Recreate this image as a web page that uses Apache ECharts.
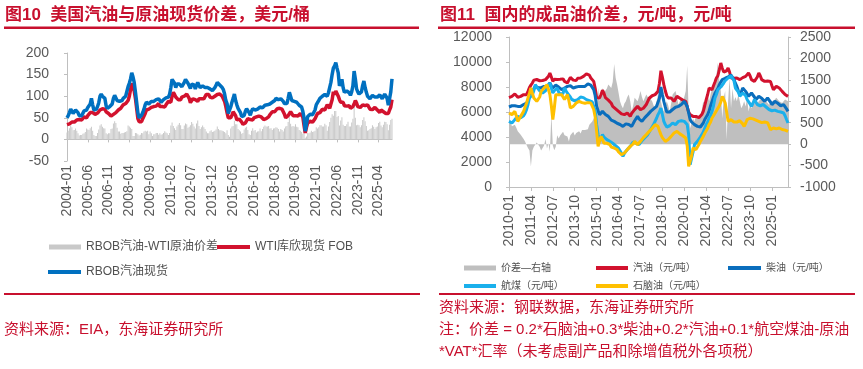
<!DOCTYPE html>
<html><head><meta charset="utf-8">
<script src="https://cdn.jsdelivr.net/npm/echarts@6/dist/echarts.min.js"></script>
<style>html,body{margin:0;padding:0;background:#fff}#c{width:863px;height:369px}</style>
</head><body><div id="c"></div>
<script>
function months(y0, m0, n) {
  const a = []; let y = y0, m = m0;
  for (let i = 0; i < n; i++) { a.push(y + '-' + (m < 10 ? '0' : '') + m); m++; if (m > 12) { m = 1; y++; } }
  return a;
}
// ---------- Figure 10: US gasoline vs crude (USD/bbl), monthly 2004-01 .. 2026-03
const usCats = months(2004, 1, 267);
const rbobSpot = [
 50,55,62,70,68,60,63,68,65,62,55,53,
 55,58,66,70,68,74,78,82,95,80,68,66,
 70,76,85,100,105,100,98,95,78,72,74,76,
 78,82,95,102,100,90,86,88,85,90,95,98,
 100,102,122,130,140,154,145,132,110,86,62,50,
 53,56,62,70,80,86,84,82,86,88,86,88,
 90,92,95,94,90,86,88,92,94,96,98,98,
 105,120,139,140,130,120,128,126,128,125,122,124,
 132,139,140,130,124,118,128,130,126,117,125,132,
 125,120,122,124,122,120,122,120,118,117,115,113,
 113,120,125,132,128,126,124,120,115,105,90,83,
 60,58,75,86,95,105,90,80,72,68,62,53,
 50,55,65,71,70,62,56,65,71,70,68,68,
 70,73,75,71,73,75,79,78,80,83,82,84,
 86,88,90,95,98,92,90,94,92,88,83,80,
 83,95,109,100,90,86,88,90,86,82,79,80,
 75,65,50,19,35,53,55,58,60,57,60,68,
 80,85,90,95,98,100,102,104,105,100,108,112,
 132,150,165,170,178,165,154,124,130,139,120,109,
 109,112,115,108,102,110,124,158,140,117,110,105,
 102,110,125,135,120,109,100,97,94,98,102,100,
 98,100,98,102,103,100,94,98,105,100,95,79,
 94,110,140
];
const wtiSpot = [
 34,35,36,37,40,39,40,43,45,48,46,43,
 45,47,52,53,50,55,58,62,66,62,58,58,
 62,61,62,68,70,71,72,70,64,60,60,62,
 54,57,58,60,62,63,68,70,72,75,80,82,
 83,86,90,100,115,130,128,112,95,72,48,41,
 42,41,48,52,60,68,64,70,68,74,78,76,
 78,77,80,83,76,75,76,77,75,80,84,88,
 88,86,100,109,104,98,98,92,90,92,98,100,
 100,102,105,103,95,85,88,94,96,92,88,88,
 94,96,94,92,94,96,104,106,104,98,94,96,
 95,100,102,104,104,105,102,100,96,88,76,62,
 50,52,50,56,64,62,55,45,48,47,44,40,
 35,32,38,42,48,50,46,45,45,50,46,52,
 52,54,50,52,49,46,47,48,50,52,57,58,
 64,63,64,67,71,68,72,70,70,70,58,50,
 52,55,58,64,60,55,58,55,57,54,57,60,
 58,52,32,15,28,38,41,42,40,40,42,48,
 52,60,62,62,65,70,72,68,72,80,78,72,
 82,92,110,104,112,113,100,92,86,88,86,78,
 78,77,74,78,72,71,76,82,90,84,76,72,
 74,77,80,84,78,78,80,76,70,72,69,71,
 74,72,68,64,62,68,66,64,64,60,60,60,
 68,75,92
];
const rbobWtiSpread = [
 16,20,26,32,28,21,22,25,20,14,9,10,
 10,13,14,17,25,23,22,26,29,20,10,8,
 8,15,23,32,35,29,26,25,14,12,14,14,
 24,25,37,42,38,27,18,18,13,15,15,16,
 17,19,32,30,27,24,8,8,15,14,12,9,
 11,15,14,18,20,18,20,12,18,14,8,12,
 12,15,15,11,14,11,12,15,19,16,14,10,
 15,32,39,31,26,22,30,34,38,33,24,24,
 32,37,35,27,29,33,40,36,30,25,37,44,
 31,24,28,32,28,24,18,14,14,19,21,17,
 18,20,23,30,24,21,21,20,19,17,14,21,
 10,6,25,30,31,43,35,35,24,21,18,13,
 15,23,27,29,22,12,10,20,26,20,22,16,
 18,19,25,19,24,29,32,30,30,31,25,26,
 22,25,26,28,27,24,18,24,22,18,25,30,
 31,40,51,36,30,31,30,35,29,28,22,20,
 17,13,18,4,7,15,14,16,20,17,18,20,
 28,25,28,33,33,30,30,36,33,20,30,40,
 50,58,55,66,66,52,54,32,44,51,34,31,
 31,35,41,30,30,39,48,76,50,33,34,33,
 28,33,45,51,42,31,20,21,24,26,33,29,
 24,28,30,38,41,32,28,34,41,40,35,21,
 34,45,48
];
const usYTicks = { min: -50, max: 200, step: 50 };

// ---------- Figure 11: China refined products (CNY/t), monthly 2010-01 .. 2025-12
const cnCats = months(2010, 1, 192);
const gasoline = [
 7150,7100,7250,7300,7450,7350,7180,7150,7250,7300,7390,7450,
 7390,7650,7950,8150,8320,8550,8640,8600,8640,8500,8450,8520,
 8560,8590,8620,8850,9120,8800,8450,8620,8770,8600,8450,8620,
 8770,8650,8450,8300,8320,8550,8770,8620,8550,8450,8520,8700,
 8650,8720,8780,8850,8900,9050,9120,8950,8720,8700,8450,7900,
 7150,7000,7120,7400,7750,7500,7150,7050,6950,6850,6700,6450,
 6450,6250,6100,6050,5950,5850,5800,5790,5850,5920,5800,5650,
 5900,6050,6190,6350,6450,6300,6190,6250,6300,6320,6600,6850,
 7100,7250,7300,7350,7390,7500,7650,8300,9300,8800,8190,7700,
 7300,7120,7150,7120,7000,6850,7050,7250,7390,7100,6990,6950,
 6900,6850,6400,6000,5790,5700,5650,5700,5650,5600,5550,5520,
 5800,6050,6500,6990,7400,7920,7900,7790,8100,8400,8720,8900,
 9390,9920,9500,9200,9120,9300,9520,9200,8720,8650,8700,8720,
 8720,8650,8590,8700,8750,8800,8850,9000,9120,8900,8590,8500,
 8450,8450,8800,9120,8900,8590,8500,8450,8450,8480,8450,8450,
 8100,7790,7900,8050,8000,7920,7800,7650,7520,7400,7300,7250
];
const diesel = [
 6400,6450,6500,6590,6500,6450,6450,6400,6450,6500,6600,6700,
 6720,6900,7200,7450,7650,7850,8050,8000,7950,7920,7950,8000,
 8050,8050,8050,8200,8320,8100,7920,8000,8150,8190,8000,7850,
 7790,7850,7920,7950,8050,8190,8100,7950,7920,7950,8000,8050,
 8050,8050,8050,8100,8050,8150,8250,8320,8150,8050,7790,7300,
 6450,6100,5790,5900,6050,5950,5800,5650,5650,5500,5350,5250,
 5250,5150,5100,5120,5000,4900,4850,4950,5050,5120,5000,4900,
 4850,5000,5300,5450,5650,5450,5300,5250,5400,5550,5650,5790,
 5900,6050,6150,6250,6350,6450,6600,7100,8000,7400,6850,6400,
 6000,5920,6000,6150,6200,6320,6380,6450,6450,6500,6600,6700,
 6850,6700,6450,6300,5390,5200,5100,4990,4900,4850,4720,4800,
 4950,5120,5400,5600,5790,6100,6500,6850,7200,7500,7650,7900,
 8190,8400,8590,8650,8700,8720,8800,8900,8950,8990,8600,8300,
 8050,7700,7390,7600,7920,7800,7650,7450,7250,7350,7520,7400,
 7200,6990,7100,7250,7200,7100,6950,6850,6950,7120,7000,6800,
 6590,6700,6850,6800,6700,6590,6500,6600,6590,6450,6250,6050
];
const jetFuel = [
 5250,5200,5120,5250,5390,5500,5650,5600,5550,5520,5700,5900,
 6190,6600,7120,7250,7390,7700,8190,8000,7920,7700,7600,7520,
 7520,7700,7920,8100,8320,7900,7520,7700,7800,7920,7600,7400,
 7250,7500,7920,7700,7500,7390,7200,7000,6850,6900,6950,6990,
 7100,7200,7250,7150,7050,6990,6950,6900,6850,6800,6720,6100,
 4990,4200,3650,3900,4190,4000,3850,3790,3700,3650,3600,3500,
 3400,3300,3250,3100,2990,2700,2450,2700,2850,3000,3150,3250,
 3400,3600,3650,3500,3450,3390,3550,3700,3790,3950,4100,4190,
 4400,4600,4800,5000,5250,5500,5790,6000,6320,5800,5250,5000,
 4800,4720,4900,5050,5120,5050,4990,5100,5250,5390,5300,5250,
 5250,5200,5000,4190,1790,1700,2800,3390,3500,3650,3800,4000,
 4190,4400,4700,4990,5200,5520,5700,6050,6500,7120,7400,7790,
 7900,8000,8100,8320,8500,8600,8720,8800,8900,8990,8500,7920,
 7920,7600,7250,7400,7520,7500,7300,7000,6850,6650,6450,6700,
 6990,6800,6600,6450,6500,6550,6600,6590,6400,6300,6200,6050,
 6100,6190,6150,6100,6050,6050,6000,5950,5920,5700,5400,5120
];
const naphtha = [
 5920,5850,5790,5900,6050,5700,5250,5450,5650,5850,6050,6400,
 6700,7120,7500,7920,7500,7120,7000,6850,7000,7200,7650,7800,
 7920,8050,8190,7800,7390,6500,5390,6300,7390,7400,7390,7390,
 7390,7200,6990,7200,7390,6900,6320,6350,6450,6550,6720,6800,
 6850,6800,6750,6720,6700,6720,6750,6720,6720,6600,6200,5600,
 4450,3250,3700,4050,3800,3500,3390,3500,3650,3400,3200,3120,
 3120,3050,2990,2800,2650,2590,2650,2720,2850,2990,3100,3250,
 3300,3450,3650,3500,3390,3500,3650,3790,3950,4050,4190,4300,
 4450,4590,4700,4850,4990,4900,4850,4500,4190,3950,3800,3650,
 3700,3800,3920,4050,4200,4320,4400,4450,4350,4250,4190,4100,
 4050,3920,3300,1650,1600,2500,3120,3050,2990,3200,3400,3650,
 3800,4050,4300,4450,4700,4990,5200,5520,5700,5900,6050,6300,
 6500,6800,7250,7000,6720,6000,5250,5300,5390,5300,5200,5120,
 5200,5250,5300,5250,5050,4850,5100,5390,5450,5500,5520,5450,
 5390,5350,5300,5250,5200,5150,5120,5200,5250,5150,4900,4590,
 4600,4720,4700,4650,4720,4720,4650,4600,4720,4550,4500,4450
];
const productSpread = [
 690,520,420,380,450,380,300,260,220,180,120,60,
 -20,-90,-150,-520,-150,-60,-20,40,60,-60,-150,-90,
 -30,120,-100,20,-180,690,-30,-140,-60,210,130,200,
 170,290,210,250,180,60,210,250,290,200,260,290,
 300,250,330,370,330,290,350,450,480,530,600,700,
 840,1310,1000,1150,1310,1200,1160,1300,1390,1350,1310,1450,
 1870,1550,1390,1200,1000,900,840,950,1000,1100,1160,1000,
 760,900,1080,1050,1000,1100,1240,1100,1000,1080,1160,1100,
 1080,1050,1000,900,840,1000,1160,1100,1000,850,760,900,
 1000,900,760,950,1160,1200,1240,1100,920,1000,1080,1000,
 1100,1240,1830,760,370,500,600,530,680,600,650,700,
 800,1000,920,1100,1160,1000,1160,1300,1390,1550,1600,1900,
 1470,1240,600,1080,1240,100,1000,1550,840,1300,1000,1100,
 1000,1160,1000,840,900,1000,880,1080,760,920,840,880,
 960,1000,960,1000,1040,1080,1040,1000,1000,960,920,1000,
 960,1000,1040,1080,1040,1000,1000,960,1000,1040,1000,1000
];
const cnLeftTicks = { min: 0, max: 12000, step: 2000 };
const cnRightTicks = { min: -1000, max: 2500, step: 500 };

const FONT = '"Liberation Sans", "Noto Sans CJK SC", sans-serif';
const RED = '#C8102E';
const AX = '#BFBFBF';
const LBL = '#595959';

function yAx(grid, t, pos, margin) {
  return {
    gridIndex: grid, type: 'value', position: pos, min: t.min, max: t.max, interval: t.step,
    axisLine: { show: true, lineStyle: { color: AX } },
    axisTick: { show: true, length: 3, lineStyle: { color: AX } },
    splitLine: { show: false },
    axisLabel: { fontSize: 14, color: LBL, margin: margin, fontFamily: FONT, formatter: function (v) { return String(v); } }
  };
}
function leg(name, left, top, w, h, fs) {
  return { data: [name], left: left, top: top, padding: 0, itemWidth: w, itemHeight: h, icon: 'rect',
    textStyle: { fontSize: fs, color: '#505050', fontFamily: FONT } };
}
function txt(s, x, y, font, color) {
  return { type: 'text', x: x, y: y, style: { text: s, fill: color, font: font, textVerticalAlign: 'middle', verticalAlign: 'middle' } };
}

const chart = echarts.init(document.getElementById('c'));
chart.setOption({
  animation: false,
  textStyle: { fontFamily: FONT },
  grid: [
    { left: 67, top: 53, width: 325, height: 108 },
    { left: 509, top: 37, width: 279, height: 150 }
  ],
  xAxis: [
    { gridIndex: 0, type: 'category', data: usCats, boundaryGap: false, position: 'bottom',
      axisLine: { show: false, onZero: false }, axisTick: { show: false },
      axisLabel: { interval: 16, rotate: 90, fontSize: 14, color: LBL, margin: 4 } },
    { gridIndex: 0, type: 'category', data: usCats, boundaryGap: false, position: 'bottom',
      axisLine: { show: true, onZero: true, lineStyle: { color: AX } },
      axisTick: { show: true, interval: 16, length: 3, lineStyle: { color: AX } },
      axisLabel: { show: false } },
    { gridIndex: 1, type: 'category', data: cnCats, boundaryGap: false,
      axisLine: { show: true, onZero: false, lineStyle: { color: AX } },
      axisTick: { show: true, interval: 14, length: 4, lineStyle: { color: AX } },
      axisLabel: { interval: 14, rotate: 90, fontSize: 14, color: LBL, margin: 8 } }
  ],
  yAxis: [
    yAx(0, usYTicks, 'left', 18),
    yAx(1, cnLeftTicks, 'left', 17),
    yAx(1, cnRightTicks, 'right', 12)
  ],
  legend: [
    leg('RBOB汽油-WTI原油价差', 49, 241, 32, 5, 12),
    leg('WTI库欣现货 FOB', 217, 241, 33, 4, 12),
    leg('RBOB汽油现货', 48, 266, 33, 4, 12),
    leg('价差—右轴', 464, 263, 32, 5, 10),
    leg('汽油（元/吨）', 596, 263, 32, 4, 10),
    leg('柴油（元/吨）', 728, 263, 33, 4, 10),
    leg('航煤（元/吨）', 464, 281, 32, 4, 10),
    leg('石脑油（元/吨）', 596, 281, 32, 4, 10)
  ],
  series: [
    { name: 'RBOB汽油-WTI原油价差', type: 'bar', xAxisIndex: 0, yAxisIndex: 0, data: rbobWtiSpread,
      barWidth: 1, itemStyle: { color: '#C9C9C9' } },
    { name: 'WTI库欣现货 FOB', type: 'line', xAxisIndex: 0, yAxisIndex: 0, data: wtiSpot, showSymbol: false,
      lineStyle: { width: 3.5, color: '#D2122E' }, itemStyle: { color: '#D2122E' } },
    { name: 'RBOB汽油现货', type: 'line', xAxisIndex: 0, yAxisIndex: 0, data: rbobSpot, showSymbol: false,
      lineStyle: { width: 3.5, color: '#0070C0' }, itemStyle: { color: '#0070C0' } },
    { name: '价差—右轴', type: 'line', xAxisIndex: 2, yAxisIndex: 2, data: productSpread, showSymbol: false,
      lineStyle: { width: 0 }, areaStyle: { color: '#BFBFBF', opacity: 1 }, itemStyle: { color: '#BFBFBF' } },
    { name: '汽油（元/吨）', type: 'line', xAxisIndex: 2, yAxisIndex: 1, data: gasoline, showSymbol: false,
      lineStyle: { width: 3, color: '#D2122E' }, itemStyle: { color: '#D2122E' } },
    { name: '柴油（元/吨）', type: 'line', xAxisIndex: 2, yAxisIndex: 1, data: diesel, showSymbol: false,
      lineStyle: { width: 3, color: '#0A6EBD' }, itemStyle: { color: '#0A6EBD' } },
    { name: '航煤（元/吨）', type: 'line', xAxisIndex: 2, yAxisIndex: 1, data: jetFuel, showSymbol: false,
      lineStyle: { width: 3, color: '#1AB0EC' }, itemStyle: { color: '#1AB0EC' } },
    { name: '石脑油（元/吨）', type: 'line', xAxisIndex: 2, yAxisIndex: 1, data: naphtha, showSymbol: false,
      lineStyle: { width: 3, color: '#FFC000' }, itemStyle: { color: '#FFC000' } }
  ],
  graphic: [
    txt('图10  美国汽油与原油现货价差，美元/桶', 5, 15, 'bold 17px ' + FONT, RED),
    txt('图11  国内的成品油价差，元/吨，元/吨', 440, 15, 'bold 17px ' + FONT, RED),
    { type: 'rect', shape: { x: 4, y: 26.5, width: 415, height: 2.5 }, style: { fill: RED } },
    { type: 'rect', shape: { x: 438, y: 26.5, width: 417, height: 2.5 }, style: { fill: RED } },
    { type: 'rect', shape: { x: 4, y: 293, width: 416, height: 2 }, style: { fill: RED } },
    { type: 'rect', shape: { x: 439, y: 293, width: 416, height: 2 }, style: { fill: RED } },
    txt('资料来源：EIA，东海证券研究所', 4, 330, '15px ' + FONT, RED),
    txt('资料来源：钢联数据，东海证券研究所', 439, 308, '15px ' + FONT, RED),
    txt('注：价差 = 0.2*石脑油+0.3*柴油+0.2*汽油+0.1*航空煤油-原油', 439, 330, '15px ' + FONT, RED),
    txt('*VAT*汇率（未考虑副产品和除增值税外各项税）', 439, 352, '15px ' + FONT, RED)
  ]
});
</script></body></html>
